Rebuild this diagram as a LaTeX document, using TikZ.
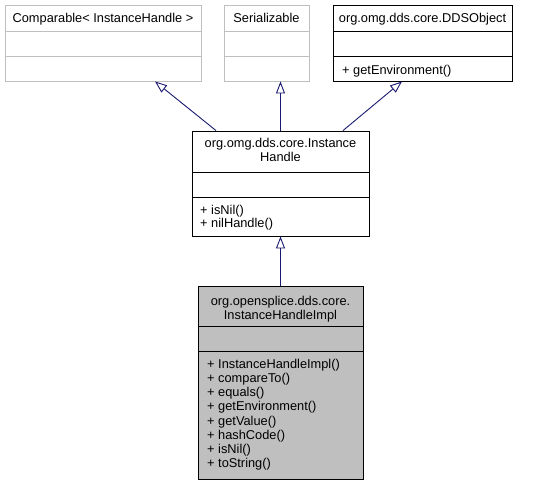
\documentclass[tikz,border=0pt]{standalone}
\usepackage{fontspec}
\setmainfont{Liberation Sans}
\usetikzlibrary{arrows.meta}
\definecolor{extgray}{HTML}{BFBFBF}
\definecolor{implfill}{HTML}{BFBFBF}
\definecolor{edgeblue}{HTML}{191970}
\tikzset{
  classbox/.style={draw=black, line width=0.9pt, inner sep=0pt},
  extbox/.style={classbox, draw=extgray},
  implbox/.style={classbox, fill=implfill},
  label/.style={font=\fontsize{12.8}{14}\selectfont, inner sep=0pt, anchor=base},
  member/.style={label, anchor=base west},
  inherit/.style={draw=edgeblue, line width=0.9pt, -{Triangle[open, length=12pt, width=9pt]}},
}
% box with two divider lines
\newcommand{\umlbox}[8][classbox]{%
  \node[#1, minimum width={#5-#3}, minimum height={#6-#4}] (#2) at ({(#3+#5)/2},{(#4+#6)/2}) {};
  \draw[#1, fill=none] (#3,#7) -- (#5,#7) (#3,#8) -- (#5,#8);
}

\begin{document}
\begin{tikzpicture}[x=1pt, y=-1pt]
  \useasboundingbox (0,0) rectangle (550,485);

  %%%%% CLASSES %%%%%
  \umlbox[extbox]{cmp}{5}{5}{201}{81}{31}{56}
  \umlbox[extbox]{ser}{224}{5}{309}{81}{31}{56}
  \umlbox{dds}{333}{5}{512}{81}{31}{56}
  \umlbox{ih}{192}{131}{369}{236}{172}{197}
  \umlbox[implbox]{impl}{198}{286}{363}{479}{326}{351}

  \node[label] (cmp-t) at (103,22) {Comparable< InstanceHandle >};
  \node[label] (ser-t) at (266.5,22) {Serializable};
  \node[label] (dds-t) at (422.5,22) {org.omg.dds.core.DDSObject};
  \node[member] (dds-m0) at (342,74.5) {+ getEnvironment()};

  \node[label] (ih-t1) at (280.5,147.5) {org.omg.dds.core.Instance};
  \node[label] (ih-t2) at (280.5,161.5) {Handle};
  \node[member] (ih-m0) at (200,214.5) {+ isNil()};
  \node[member] (ih-m1) at (200,227.5) {+ nilHandle()};

  \node[label] (impl-t1) at (280.5,305) {org.opensplice.dds.core.};
  \node[label] (impl-t2) at (280.5,319) {InstanceHandleImpl};
  \foreach \m [count=\i from 0] in {InstanceHandleImpl(), compareTo(), equals(),
      getEnvironment(), getValue(), hashCode(), isNil(), toString()}
    \node[member] (impl-m\i) at (207,368.5+14.14*\i) {+ \m};

  %%%%% INHERITANCE %%%%%
  \draw[inherit] (ih.north -| 216,0) -- (cmp.south -| 155,0);
  \draw[inherit] (ih.north) -- (ih.north |- ser.south);
  \draw[inherit] (ih.north -| 343,0) -- (dds.south -| 402,0);
  \draw[inherit] (impl.north) -- (ih.south);
\end{tikzpicture}
\end{document}
